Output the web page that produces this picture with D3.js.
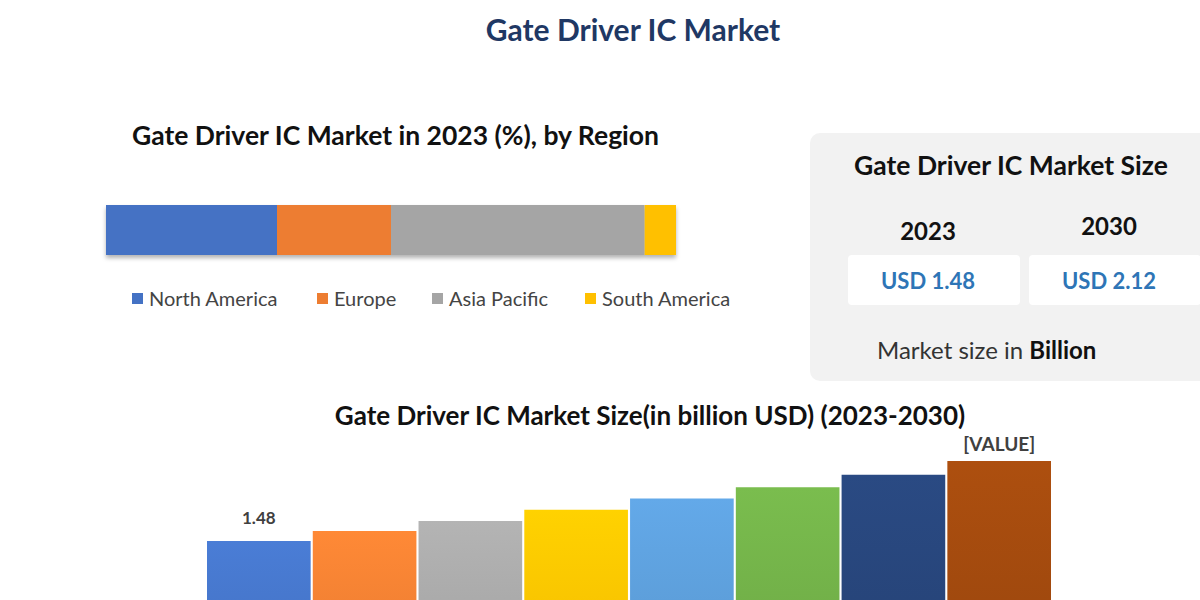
<!DOCTYPE html>
<html>
<head>
<meta charset="utf-8">
<script src="https://cdn.jsdelivr.net/npm/d3@7"></script>
<style>
  body { margin: 0; background: #fff; }
  svg text { font-family: Lato, "Open Sans", sans-serif; }
</style>
</head>
<body>
<div id="chart"></div>
<script>
// region shares in 2023 (%)
let regions = ["North America", "Europe", "Asia Pacific", "South America"];
let regionShare = [30, 20, 44.5, 5.5];
let regionColors = ["#4472C4", "#ED7D31", "#A5A5A5", "#FFC000"];

// market size by year (billion USD)
let years = ["2023", "2024", "2025", "2026", "2027", "2028", "2029", "2030"];
let sizes = [1.48, 1.56, 1.64, 1.73, 1.82, 1.91, 2.01, 2.12];
let barColors = ["#4472C4", "#ED7D31", "#A5A5A5", "#FFC000", "#5B9BD5", "#70AD47", "#264478", "#9E480E"];
let barLabels = ["1.48", "", "", "", "", "", "", "[VALUE]"];

// summary box
let summaryYears = ["2023", "2030"];
let summaryValues = ["USD 1.48", "USD 2.12"];

let width = 1200, height = 600;

let svg = d3.select("#chart").append("svg")
  .attr("width", width)
  .attr("height", height);

let defs = svg.append("defs");

// soft shadow for the stacked bar
let shadow = defs.append("filter").attr("id", "shadow")
  .attr("x", "-5%").attr("y", "-20%").attr("width", "110%").attr("height", "160%");
shadow.append("feDropShadow")
  .attr("dx", 0).attr("dy", 3).attr("stdDeviation", 2)
  .attr("flood-color", "#000").attr("flood-opacity", 0.3);

// vertical gradients for the bars, lighter on top
barColors.forEach(function(c, i){
  let g = defs.append("linearGradient").attr("id", "grad" + i)
    .attr("x1", 0).attr("y1", 0).attr("x2", 0).attr("y2", 1);
  g.append("stop").attr("offset", "0%").attr("stop-color", d3.color(c).brighter(0.25));
  g.append("stop").attr("offset", "100%").attr("stop-color", d3.color(c).darker(0.15));
});

// main title
svg.append("text")
  .attr("x", 633).attr("y", 41)
  .attr("text-anchor", "middle")
  .attr("font-size", 30).attr("font-weight", "bold")
  .attr("fill", "#1F3864")
  .text("Gate Driver IC Market");

// ---- stacked region bar ----
svg.append("text")
  .attr("x", 132).attr("y", 145)
  .attr("font-size", 26.5).attr("font-weight", "bold")
  .attr("fill", "#111")
  .text("Gate Driver IC Market in 2023 (%), by Region");

let total = d3.sum(regionShare);
let stackX = d3.scaleLinear().domain([0, total]).range([106, 676]);
let cum = 0;
let stackData = regionShare.map(function(v, i){
  let d = {name: regions[i], start: cum, end: cum + v, color: regionColors[i]};
  cum += v;
  return d;
});

let stackG = svg.append("g").attr("filter", "url(#shadow)");
stackG.selectAll("rect").data(stackData).enter()
  .append("rect")
    .attr("x", d => stackX(d.start))
    .attr("y", 205)
    .attr("width", d => stackX(d.end) - stackX(d.start))
    .attr("height", 50)
    .attr("fill", d => d.color);

let legendX = [132, 317, 432, 585];
let legend = svg.selectAll(".leg").data(regions).enter()
  .append("g").attr("class", "leg")
  .attr("transform", (d, i) => "translate(" + legendX[i] + ",299)");
legend.append("rect")
  .attr("x", 0).attr("y", -6).attr("width", 11).attr("height", 11)
  .attr("fill", (d, i) => regionColors[i]);
legend.append("text")
  .attr("x", 17).attr("y", 7)
  .attr("font-size", 20).attr("fill", "#444")
  .text(d => d);

// ---- summary box ----
svg.append("rect")
  .attr("x", 810).attr("y", 133)
  .attr("width", 410).attr("height", 248)
  .attr("rx", 10)
  .attr("fill", "#F2F2F2");

svg.append("text")
  .attr("x", 1011).attr("y", 175)
  .attr("text-anchor", "middle")
  .attr("font-size", 26.5).attr("font-weight", "bold")
  .attr("fill", "#111")
  .text("Gate Driver IC Market Size");

let boxX = [848, 1029];
let yearY = [240, 235];
summaryYears.forEach(function(y, i){
  svg.append("text")
    .attr("x", boxX[i] + 80).attr("y", yearY[i])
    .attr("text-anchor", "middle")
    .attr("font-size", 24).attr("font-weight", "bold")
    .attr("fill", "#111")
    .text(y);
  svg.append("rect")
    .attr("x", boxX[i]).attr("y", 255)
    .attr("width", 172).attr("height", 50)
    .attr("rx", 4)
    .attr("fill", "#fff");
  svg.append("text")
    .attr("x", boxX[i] + 80).attr("y", 289)
    .attr("text-anchor", "middle")
    .attr("font-size", 22).attr("font-weight", "bold")
    .attr("fill", "#2E75B6")
    .text(summaryValues[i]);
});

let note = svg.append("text")
  .attr("x", 877).attr("y", 359)
  .attr("font-size", 24).attr("fill", "#333");
note.append("tspan").text("Market size in ");
note.append("tspan").attr("font-weight", "bold").attr("fill", "#111").text("Billion");

// ---- bar chart ----
svg.append("text")
  .attr("x", 650).attr("y", 425)
  .attr("text-anchor", "middle")
  .attr("font-size", 26).attr("font-weight", "bold")
  .attr("fill", "#111")
  .text("Gate Driver IC Market Size(in billion USD) (2023-2030)");

// baseline sits below the visible area, like in the reference
let xScale = d3.scaleBand().domain(years).range([207, 1051]).paddingInner(0.02);
let yScale = d3.scaleLinear().domain([0, 2.12]).range([726, 461]);

svg.append("g").selectAll("rect").data(sizes).enter()
  .append("rect")
    .attr("x", (d, i) => xScale(years[i]))
    .attr("y", d => yScale(d))
    .attr("width", xScale.bandwidth())
    .attr("height", d => yScale(0) - yScale(d))
    .attr("fill", (d, i) => "url(#grad" + i + ")");

svg.append("g").selectAll("text").data(sizes).enter()
  .append("text")
    .attr("x", (d, i) => xScale(years[i]) + xScale.bandwidth() / 2)
    .attr("y", (d, i) => yScale(d) - (i === 7 ? 10 : 17))
    .attr("text-anchor", "middle")
    .attr("font-size", (d, i) => i === 7 ? 19 : 17).attr("font-weight", "bold")
    .attr("fill", "#404040")
    .text((d, i) => barLabels[i]);
</script>
</body>
</html>
